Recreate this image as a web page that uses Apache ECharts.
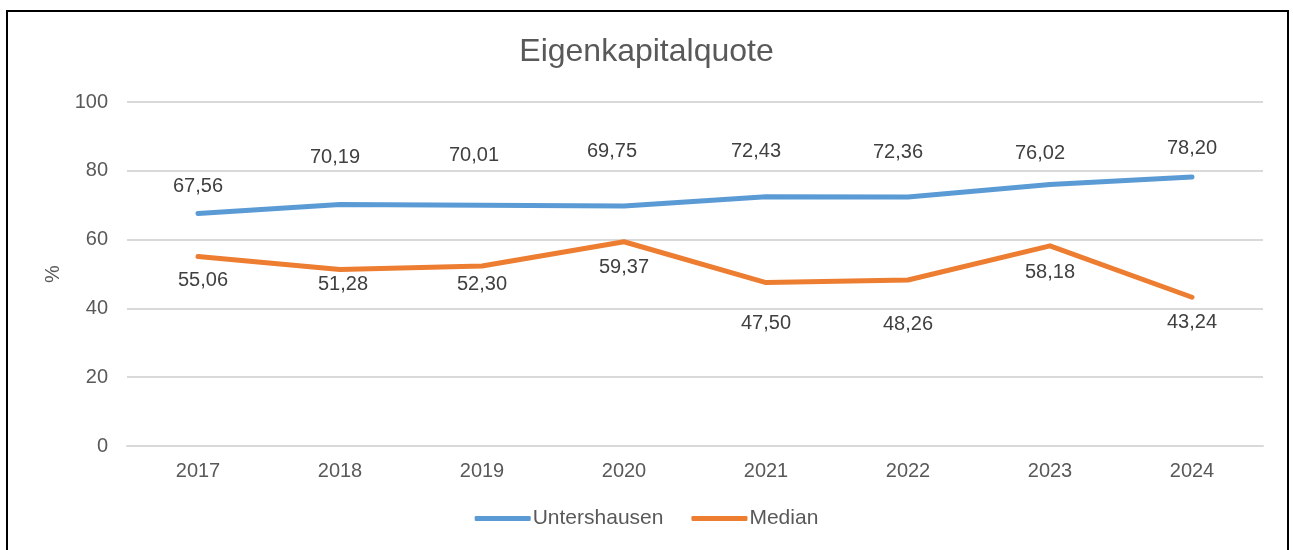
<!DOCTYPE html>
<html>
<head>
<meta charset="utf-8">
<script src="https://cdn.jsdelivr.net/npm/echarts@6/dist/echarts.min.js"></script>
<style>
  html, body { margin: 0; padding: 0; background: #fff; }
  #frame { position: absolute; left: 6px; top: 10px; width: 1283px; height: 560px; border: 2px solid #000; box-sizing: border-box; }
  #chart { position: absolute; left: 0; top: 0; width: 1293px; height: 550px; }
</style>
</head>
<body>
<div id="frame"></div>
<div id="chart"></div>
<script>
const years = ['2017', '2018', '2019', '2020', '2021', '2022', '2023', '2024']
const untershausen = [67.56, 70.19, 70.01, 69.75, 72.43, 72.36, 76.02, 78.20]
const median = [55.06, 51.28, 52.30, 59.37, 47.50, 48.26, 58.18, 43.24]

// label placement (Excel had them moved by hand)
const labelOffsetsU = [[0, -27], [-5, -47], [-8, -50], [-12, -55], [-10, -45], [-10, -45], [-10, -31], [0, -29]]
const labelOffsetsM = [[5, 24], [3, 15], [0, 18], [0, 26], [0, 41], [0, 44], [0, 27], [0, 25]]

const fmt = (v) => v.toFixed(2).replace('.', ',')

const withLabels = (values, offsets) =>
  values.map((v, i) => ({ value: v, label: { offset: offsets[i] } }))

const chart = echarts.init(document.getElementById('chart'))

const labelStyle = {
  show: true,
  position: 'inside',
  color: '#404040',
  fontSize: 20,
  fontFamily: 'Liberation Sans, Arial, sans-serif',
  formatter: (p) => fmt(p.value),
}

chart.setOption({
  animation: false,
  textStyle: { fontFamily: 'Liberation Sans, Arial, sans-serif' },
  title: {
    text: 'Eigenkapitalquote',
    left: 'center',
    top: 31,
    textStyle: { color: '#595959', fontSize: 32, fontWeight: 'normal' },
  },
  legend: {
    bottom: 16,
    left: 'center',
    icon: 'roundRect',
    itemWidth: 56,
    itemHeight: 5,
    itemGap: 28,
    textStyle: { color: '#595959', fontSize: 21, padding: [0, 0, 0, -3] },
    data: ['Untershausen', 'Median'],
  },
  grid: { left: 127, right: 30, top: 102, bottom: 104 },
  xAxis: {
    type: 'category',
    data: years,
    boundaryGap: true,
    axisLine: { lineStyle: { color: '#D9D9D9', width: 2 } },
    axisTick: { show: false },
    axisLabel: { color: '#595959', fontSize: 20, margin: 15 },
  },
  yAxis: {
    type: 'value',
    min: 0,
    max: 100,
    interval: 20,
    name: '%',
    nameLocation: 'middle',
    nameRotate: 90,
    nameGap: 64,
    nameTextStyle: { color: '#595959', fontSize: 20 },
    axisLine: { show: false },
    axisTick: { show: false },
    axisLabel: { color: '#595959', fontSize: 20, margin: 19 },
    splitLine: { lineStyle: { color: '#D9D9D9', width: 2 } },
  },
  series: [
    {
      name: 'Untershausen',
      type: 'line',
      data: withLabels(untershausen, labelOffsetsU),
      symbol: 'circle',
      symbolSize: 1,
      itemStyle: { color: '#5B9BD5' },
      lineStyle: { color: '#5B9BD5', width: 5, cap: 'round', join: 'round' },
      label: labelStyle,
    },
    {
      name: 'Median',
      type: 'line',
      data: withLabels(median, labelOffsetsM),
      symbol: 'circle',
      symbolSize: 1,
      itemStyle: { color: '#ED7D31' },
      lineStyle: { color: '#ED7D31', width: 5, cap: 'round', join: 'round' },
      label: labelStyle,
    },
  ],
})

window.addEventListener('resize', () => chart.resize())
</script>
</body>
</html>
